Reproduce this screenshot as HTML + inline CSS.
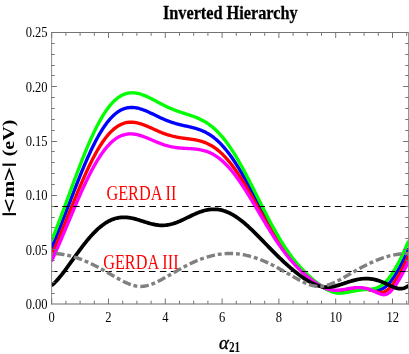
<!DOCTYPE html>
<html><head><meta charset="utf-8"><title>Inverted Hierarchy</title>
<style>html,body{margin:0;padding:0;background:#fff;}svg{display:block;}</style></head>
<body>
<svg width="409" height="354" viewBox="0 0 409 354">
<rect width="409" height="354" fill="#fff"/>
<defs><clipPath id="c"><rect x="51.4" y="32.5" width="357.70000000000005" height="271.5"/></clipPath></defs>
<g clip-path="url(#c)" fill="none" stroke-linejoin="round">
<path d="M51.40,248.39 L52.39,246.09 L53.39,243.75 L54.38,241.38 L55.38,238.98 L56.37,236.56 L57.37,234.11 L58.36,231.63 L59.36,229.13 L60.35,226.62 L61.35,224.08 L62.34,221.53 L63.34,218.97 L64.33,216.40 L65.33,213.81 L66.32,211.22 L67.32,208.63 L68.31,206.03 L69.31,203.43 L70.30,200.83 L71.30,198.23 L72.29,195.64 L73.29,193.06 L74.28,190.49 L75.28,187.93 L76.27,185.38 L77.27,182.84 L78.26,180.33 L79.26,177.83 L80.25,175.36 L81.25,172.91 L82.24,170.48 L83.24,168.08 L84.23,165.71 L85.23,163.37 L86.22,161.06 L87.22,158.79 L88.21,156.55 L89.21,154.35 L90.20,152.19 L91.20,150.06 L92.19,147.98 L93.19,145.95 L94.18,143.95 L95.18,142.01 L96.17,140.10 L97.17,138.25 L98.16,136.45 L99.16,134.70 L100.15,132.99 L101.15,131.34 L102.14,129.75 L103.14,128.20 L104.13,126.72 L105.13,125.28 L106.12,123.90 L107.12,122.58 L108.11,121.32 L109.11,120.11 L110.10,118.95 L111.10,117.86 L112.09,116.82 L113.09,115.84 L114.08,114.92 L115.08,114.05 L116.07,113.24 L117.07,112.48 L118.06,111.78 L119.06,111.14 L120.05,110.55 L121.05,110.02 L122.04,109.54 L123.04,109.11 L124.03,108.73 L125.03,108.41 L126.02,108.13 L127.02,107.91 L128.01,107.73 L129.01,107.59 L130.00,107.50 L131.00,107.46 L131.99,107.45 L132.99,107.49 L133.98,107.57 L134.98,107.68 L135.97,107.83 L136.97,108.01 L137.96,108.23 L138.96,108.48 L139.95,108.75 L140.95,109.05 L141.94,109.38 L142.94,109.73 L143.93,110.10 L144.93,110.50 L145.92,110.90 L146.92,111.33 L147.91,111.77 L148.91,112.22 L149.90,112.68 L150.90,113.15 L151.89,113.62 L152.89,114.10 L153.88,114.58 L154.88,115.07 L155.87,115.55 L156.87,116.03 L157.86,116.51 L158.86,116.99 L159.85,117.46 L160.85,117.92 L161.84,118.38 L162.84,118.82 L163.83,119.26 L164.83,119.69 L165.82,120.10 L166.82,120.50 L167.81,120.89 L168.81,121.27 L169.80,121.64 L170.80,121.99 L171.79,122.33 L172.79,122.66 L173.78,122.97 L174.78,123.27 L175.77,123.56 L176.77,123.84 L177.76,124.11 L178.76,124.37 L179.75,124.62 L180.75,124.87 L181.74,125.10 L182.74,125.33 L183.73,125.56 L184.73,125.79 L185.72,126.01 L186.72,126.23 L187.71,126.45 L188.71,126.68 L189.70,126.91 L190.70,127.14 L191.69,127.38 L192.69,127.63 L193.68,127.89 L194.68,128.16 L195.67,128.45 L196.67,128.75 L197.66,129.06 L198.66,129.40 L199.65,129.75 L200.65,130.12 L201.64,130.52 L202.64,130.94 L203.63,131.38 L204.63,131.85 L205.62,132.35 L206.62,132.87 L207.61,133.43 L208.61,134.01 L209.60,134.62 L210.60,135.27 L211.59,135.95 L212.59,136.67 L213.58,137.42 L214.58,138.20 L215.57,139.02 L216.57,139.87 L217.56,140.76 L218.56,141.69 L219.55,142.66 L220.55,143.66 L221.54,144.70 L222.54,145.77 L223.53,146.89 L224.53,148.04 L225.52,149.22 L226.52,150.44 L227.51,151.70 L228.51,152.99 L229.50,154.32 L230.50,155.69 L231.49,157.08 L232.49,158.51 L233.48,159.97 L234.48,161.47 L235.47,162.99 L236.47,164.55 L237.46,166.13 L238.46,167.74 L239.45,169.37 L240.45,171.03 L241.44,172.72 L242.44,174.43 L243.43,176.16 L244.43,177.91 L245.42,179.68 L246.42,181.47 L247.41,183.27 L248.41,185.09 L249.40,186.93 L250.40,188.77 L251.39,190.63 L252.39,192.49 L253.38,194.36 L254.38,196.24 L255.37,198.13 L256.37,200.01 L257.36,201.90 L258.36,203.79 L259.35,205.68 L260.35,207.56 L261.34,209.44 L262.34,211.32 L263.33,213.18 L264.33,215.04 L265.32,216.89 L266.32,218.73 L267.31,220.56 L268.31,222.37 L269.30,224.17 L270.30,225.95 L271.29,227.71 L272.29,229.46 L273.28,231.19 L274.28,232.89 L275.27,234.58 L276.27,236.24 L277.26,237.88 L278.26,239.50 L279.25,241.09 L280.25,242.66 L281.24,244.21 L282.24,245.72 L283.23,247.21 L284.23,248.68 L285.22,250.12 L286.22,251.53 L287.21,252.91 L288.21,254.27 L289.20,255.60 L290.20,256.90 L291.19,258.18 L292.19,259.43 L293.18,260.65 L294.18,261.85 L295.17,263.02 L296.17,264.17 L297.16,265.29 L298.16,266.39 L299.15,267.47 L300.15,268.52 L301.14,269.55 L302.14,270.56 L303.13,271.55 L304.13,272.52 L305.12,273.46 L306.12,274.39 L307.11,275.30 L308.11,276.18 L309.10,277.05 L310.10,277.91 L311.09,278.74 L312.09,279.55 L313.08,280.35 L314.08,281.13 L315.07,281.89 L316.07,282.63 L317.06,283.35 L318.06,284.05 L319.05,284.73 L320.05,285.39 L321.04,286.03 L322.04,286.64 L323.03,287.22 L324.03,287.78 L325.02,288.30 L326.02,288.80 L327.01,289.26 L328.01,289.69 L329.00,290.08 L330.00,290.43 L330.99,290.75 L331.99,291.02 L332.98,291.25 L333.98,291.44 L334.97,291.58 L335.97,291.68 L336.96,291.75 L337.96,291.77 L338.95,291.76 L339.95,291.72 L340.94,291.65 L341.94,291.55 L342.93,291.43 L343.93,291.29 L344.92,291.13 L345.92,290.96 L346.91,290.79 L347.91,290.61 L348.90,290.43 L349.90,290.26 L350.89,290.08 L351.89,289.92 L352.88,289.76 L353.88,289.62 L354.87,289.49 L355.87,289.37 L356.86,289.27 L357.86,289.19 L358.85,289.13 L359.85,289.09 L360.84,289.07 L361.84,289.07 L362.83,289.08 L363.83,289.12 L364.82,289.18 L365.82,289.25 L366.81,289.33 L367.81,289.43 L368.80,289.54 L369.80,289.65 L370.79,289.77 L371.79,289.88 L372.78,289.97 L373.78,290.06 L374.77,290.11 L375.77,290.13 L376.76,290.11 L377.76,290.04 L378.75,289.90 L379.75,289.69 L380.74,289.41 L381.74,289.04 L382.73,288.58 L383.73,288.02 L384.72,287.37 L385.72,286.62 L386.71,285.78 L387.71,284.84 L388.70,283.80 L389.70,282.68 L390.69,281.47 L391.69,280.17 L392.68,278.80 L393.68,277.35 L394.67,275.83 L395.67,274.23 L396.66,272.57 L397.66,270.85 L398.65,269.06 L399.65,267.22 L400.64,265.32 L401.64,263.37 L402.63,261.36 L403.63,259.31 L404.62,257.21 L405.62,255.07 L406.61,252.88 L407.61,250.65 L408.60,248.39" stroke="#0000ff" stroke-width="3.35"/>
<path d="M51.40,255.60 L52.39,253.40 L53.39,251.17 L54.38,248.91 L55.38,246.62 L56.37,244.30 L57.37,241.96 L58.36,239.60 L59.36,237.21 L60.35,234.81 L61.35,232.40 L62.34,229.96 L63.34,227.52 L64.33,225.06 L65.33,222.60 L66.32,220.13 L67.32,217.65 L68.31,215.18 L69.31,212.70 L70.30,210.22 L71.30,207.75 L72.29,205.29 L73.29,202.83 L74.28,200.38 L75.28,197.94 L76.27,195.51 L77.27,193.10 L78.26,190.71 L79.26,188.34 L80.25,185.98 L81.25,183.65 L82.24,181.35 L83.24,179.07 L84.23,176.81 L85.23,174.59 L86.22,172.40 L87.22,170.24 L88.21,168.12 L89.21,166.03 L90.20,163.98 L91.20,161.97 L92.19,160.00 L93.19,158.07 L94.18,156.18 L95.18,154.34 L96.17,152.54 L97.17,150.79 L98.16,149.09 L99.16,147.44 L100.15,145.83 L101.15,144.27 L102.14,142.77 L103.14,141.32 L104.13,139.92 L105.13,138.57 L106.12,137.28 L107.12,136.04 L108.11,134.85 L109.11,133.72 L110.10,132.64 L111.10,131.62 L112.09,130.65 L113.09,129.74 L114.08,128.88 L115.08,128.08 L116.07,127.33 L117.07,126.64 L118.06,126.00 L119.06,125.41 L120.05,124.87 L121.05,124.39 L122.04,123.96 L123.04,123.57 L124.03,123.24 L125.03,122.95 L126.02,122.71 L127.02,122.52 L128.01,122.38 L129.01,122.27 L130.00,122.21 L131.00,122.19 L131.99,122.21 L132.99,122.27 L133.98,122.36 L134.98,122.49 L135.97,122.65 L136.97,122.85 L137.96,123.07 L138.96,123.33 L139.95,123.60 L140.95,123.91 L141.94,124.23 L142.94,124.58 L143.93,124.94 L144.93,125.33 L145.92,125.72 L146.92,126.13 L147.91,126.56 L148.91,126.99 L149.90,127.43 L150.90,127.87 L151.89,128.32 L152.89,128.77 L153.88,129.22 L154.88,129.67 L155.87,130.12 L156.87,130.56 L157.86,131.00 L158.86,131.43 L159.85,131.86 L160.85,132.27 L161.84,132.68 L162.84,133.07 L163.83,133.45 L164.83,133.82 L165.82,134.17 L166.82,134.51 L167.81,134.84 L168.81,135.15 L169.80,135.45 L170.80,135.73 L171.79,136.00 L172.79,136.25 L173.78,136.49 L174.78,136.71 L175.77,136.92 L176.77,137.12 L177.76,137.31 L178.76,137.48 L179.75,137.65 L180.75,137.81 L181.74,137.95 L182.74,138.09 L183.73,138.23 L184.73,138.36 L185.72,138.49 L186.72,138.62 L187.71,138.75 L188.71,138.87 L189.70,139.01 L190.70,139.14 L191.69,139.29 L192.69,139.44 L193.68,139.60 L194.68,139.77 L195.67,139.95 L196.67,140.15 L197.66,140.36 L198.66,140.59 L199.65,140.84 L200.65,141.11 L201.64,141.40 L202.64,141.71 L203.63,142.05 L204.63,142.41 L205.62,142.80 L206.62,143.22 L207.61,143.66 L208.61,144.14 L209.60,144.65 L210.60,145.18 L211.59,145.75 L212.59,146.36 L213.58,146.99 L214.58,147.67 L215.57,148.37 L216.57,149.12 L217.56,149.89 L218.56,150.71 L219.55,151.56 L220.55,152.44 L221.54,153.37 L222.54,154.33 L223.53,155.32 L224.53,156.36 L225.52,157.43 L226.52,158.53 L227.51,159.67 L228.51,160.84 L229.50,162.05 L230.50,163.30 L231.49,164.57 L232.49,165.88 L233.48,167.23 L234.48,168.60 L235.47,170.00 L236.47,171.43 L237.46,172.89 L238.46,174.38 L239.45,175.90 L240.45,177.44 L241.44,179.00 L242.44,180.59 L243.43,182.20 L244.43,183.83 L245.42,185.47 L246.42,187.14 L247.41,188.82 L248.41,190.52 L249.40,192.24 L250.40,193.96 L251.39,195.70 L252.39,197.44 L253.38,199.20 L254.38,200.96 L255.37,202.72 L256.37,204.49 L257.36,206.27 L258.36,208.04 L259.35,209.81 L260.35,211.59 L261.34,213.36 L262.34,215.12 L263.33,216.88 L264.33,218.63 L265.32,220.37 L266.32,222.11 L267.31,223.83 L268.31,225.54 L269.30,227.24 L270.30,228.92 L271.29,230.59 L272.29,232.24 L273.28,233.87 L274.28,235.48 L275.27,237.08 L276.27,238.65 L277.26,240.21 L278.26,241.74 L279.25,243.25 L280.25,244.74 L281.24,246.20 L282.24,247.65 L283.23,249.06 L284.23,250.45 L285.22,251.82 L286.22,253.17 L287.21,254.49 L288.21,255.78 L289.20,257.05 L290.20,258.29 L291.19,259.51 L292.19,260.71 L293.18,261.88 L294.18,263.02 L295.17,264.15 L296.17,265.25 L297.16,266.32 L298.16,267.38 L299.15,268.41 L300.15,269.42 L301.14,270.41 L302.14,271.38 L303.13,272.33 L304.13,273.26 L305.12,274.17 L306.12,275.06 L307.11,275.93 L308.11,276.79 L309.10,277.62 L310.10,278.44 L311.09,279.23 L312.09,280.01 L313.08,280.77 L314.08,281.51 L315.07,282.23 L316.07,282.94 L317.06,283.62 L318.06,284.27 L319.05,284.91 L320.05,285.52 L321.04,286.11 L322.04,286.67 L323.03,287.20 L324.03,287.70 L325.02,288.17 L326.02,288.61 L327.01,289.01 L328.01,289.38 L329.00,289.71 L330.00,290.00 L330.99,290.25 L331.99,290.46 L332.98,290.63 L333.98,290.76 L334.97,290.85 L335.97,290.91 L336.96,290.92 L337.96,290.91 L338.95,290.86 L339.95,290.79 L340.94,290.69 L341.94,290.57 L342.93,290.43 L343.93,290.28 L344.92,290.11 L345.92,289.95 L346.91,289.77 L347.91,289.60 L348.90,289.43 L349.90,289.26 L350.89,289.10 L351.89,288.96 L352.88,288.82 L353.88,288.70 L354.87,288.60 L355.87,288.51 L356.86,288.45 L357.86,288.41 L358.85,288.39 L359.85,288.40 L360.84,288.43 L361.84,288.48 L362.83,288.57 L363.83,288.67 L364.82,288.81 L365.82,288.97 L366.81,289.16 L367.81,289.37 L368.80,289.60 L369.80,289.86 L370.79,290.13 L371.79,290.41 L372.78,290.71 L373.78,291.01 L374.77,291.30 L375.77,291.58 L376.76,291.84 L377.76,292.07 L378.75,292.25 L379.75,292.38 L380.74,292.42 L381.74,292.39 L382.73,292.25 L383.73,292.00 L384.72,291.63 L385.72,291.14 L386.71,290.52 L387.71,289.79 L388.70,288.94 L389.70,287.97 L390.69,286.91 L391.69,285.74 L392.68,284.48 L393.68,283.14 L394.67,281.72 L395.67,280.22 L396.66,278.66 L397.66,277.03 L398.65,275.33 L399.65,273.58 L400.64,271.77 L401.64,269.91 L402.63,267.99 L403.63,266.03 L404.62,264.03 L405.62,261.98 L406.61,259.89 L407.61,257.76 L408.60,255.60" stroke="#ff0000" stroke-width="3.35"/>
<path d="M51.40,240.85 L52.39,238.45 L53.39,236.02 L54.38,233.55 L55.38,231.06 L56.37,228.53 L57.37,225.98 L58.36,223.40 L59.36,220.81 L60.35,218.19 L61.35,215.55 L62.34,212.89 L63.34,210.23 L64.33,207.54 L65.33,204.85 L66.32,202.16 L67.32,199.45 L68.31,196.74 L69.31,194.03 L70.30,191.33 L71.30,188.62 L72.29,185.92 L73.29,183.23 L74.28,180.54 L75.28,177.87 L76.27,175.21 L77.27,172.56 L78.26,169.94 L79.26,167.33 L80.25,164.74 L81.25,162.18 L82.24,159.65 L83.24,157.14 L84.23,154.66 L85.23,152.21 L86.22,149.79 L87.22,147.41 L88.21,145.06 L89.21,142.76 L90.20,140.49 L91.20,138.26 L92.19,136.08 L93.19,133.94 L94.18,131.84 L95.18,129.79 L96.17,127.79 L97.17,125.84 L98.16,123.94 L99.16,122.09 L100.15,120.30 L101.15,118.56 L102.14,116.87 L103.14,115.24 L104.13,113.66 L105.13,112.14 L106.12,110.68 L107.12,109.27 L108.11,107.93 L109.11,106.64 L110.10,105.41 L111.10,104.24 L112.09,103.13 L113.09,102.08 L114.08,101.08 L115.08,100.15 L116.07,99.28 L117.07,98.46 L118.06,97.70 L119.06,97.00 L120.05,96.36 L121.05,95.77 L122.04,95.24 L123.04,94.76 L124.03,94.34 L125.03,93.97 L126.02,93.65 L127.02,93.39 L128.01,93.17 L129.01,93.00 L130.00,92.88 L131.00,92.81 L131.99,92.78 L132.99,92.80 L133.98,92.85 L134.98,92.95 L135.97,93.08 L136.97,93.25 L137.96,93.46 L138.96,93.70 L139.95,93.97 L140.95,94.27 L141.94,94.60 L142.94,94.96 L143.93,95.34 L144.93,95.74 L145.92,96.16 L146.92,96.60 L147.91,97.06 L148.91,97.53 L149.90,98.01 L150.90,98.51 L151.89,99.02 L152.89,99.53 L153.88,100.05 L154.88,100.57 L155.87,101.10 L156.87,101.63 L157.86,102.15 L158.86,102.68 L159.85,103.20 L160.85,103.72 L161.84,104.23 L162.84,104.74 L163.83,105.24 L164.83,105.73 L165.82,106.21 L166.82,106.69 L167.81,107.15 L168.81,107.60 L169.80,108.04 L170.80,108.47 L171.79,108.89 L172.79,109.30 L173.78,109.70 L174.78,110.09 L175.77,110.47 L176.77,110.84 L177.76,111.20 L178.76,111.55 L179.75,111.89 L180.75,112.23 L181.74,112.56 L182.74,112.88 L183.73,113.21 L184.73,113.53 L185.72,113.85 L186.72,114.17 L187.71,114.49 L188.71,114.81 L189.70,115.14 L190.70,115.47 L191.69,115.81 L192.69,116.16 L193.68,116.52 L194.68,116.89 L195.67,117.27 L196.67,117.67 L197.66,118.09 L198.66,118.52 L199.65,118.97 L200.65,119.44 L201.64,119.93 L202.64,120.45 L203.63,120.99 L204.63,121.56 L205.62,122.15 L206.62,122.77 L207.61,123.42 L208.61,124.10 L209.60,124.82 L210.60,125.56 L211.59,126.34 L212.59,127.15 L213.58,127.99 L214.58,128.87 L215.57,129.78 L216.57,130.74 L217.56,131.72 L218.56,132.75 L219.55,133.81 L220.55,134.90 L221.54,136.04 L222.54,137.21 L223.53,138.42 L224.53,139.66 L225.52,140.94 L226.52,142.26 L227.51,143.62 L228.51,145.01 L229.50,146.43 L230.50,147.89 L231.49,149.38 L232.49,150.91 L233.48,152.47 L234.48,154.06 L235.47,155.68 L236.47,157.33 L237.46,159.01 L238.46,160.72 L239.45,162.46 L240.45,164.22 L241.44,166.00 L242.44,167.81 L243.43,169.64 L244.43,171.49 L245.42,173.36 L246.42,175.25 L247.41,177.15 L248.41,179.07 L249.40,181.00 L250.40,182.95 L251.39,184.90 L252.39,186.87 L253.38,188.84 L254.38,190.82 L255.37,192.80 L256.37,194.79 L257.36,196.78 L258.36,198.77 L259.35,200.75 L260.35,202.74 L261.34,204.71 L262.34,206.69 L263.33,208.65 L264.33,210.61 L265.32,212.56 L266.32,214.49 L267.31,216.41 L268.31,218.32 L269.30,220.21 L270.30,222.09 L271.29,223.95 L272.29,225.79 L273.28,227.61 L274.28,229.40 L275.27,231.18 L276.27,232.93 L277.26,234.66 L278.26,236.37 L279.25,238.04 L280.25,239.70 L281.24,241.32 L282.24,242.93 L283.23,244.50 L284.23,246.04 L285.22,247.56 L286.22,249.05 L287.21,250.51 L288.21,251.94 L289.20,253.35 L290.20,254.72 L291.19,256.07 L292.19,257.39 L293.18,258.69 L294.18,259.95 L295.17,261.19 L296.17,262.41 L297.16,263.59 L298.16,264.76 L299.15,265.89 L300.15,267.01 L301.14,268.10 L302.14,269.17 L303.13,270.21 L304.13,271.24 L305.12,272.24 L306.12,273.23 L307.11,274.19 L308.11,275.14 L309.10,276.07 L310.10,276.97 L311.09,277.87 L312.09,278.74 L313.08,279.60 L314.08,280.43 L315.07,281.26 L316.07,282.06 L317.06,282.85 L318.06,283.62 L319.05,284.37 L320.05,285.10 L321.04,285.81 L322.04,286.49 L323.03,287.16 L324.03,287.80 L325.02,288.42 L326.02,289.00 L327.01,289.56 L328.01,290.09 L329.00,290.58 L330.00,291.04 L330.99,291.45 L331.99,291.83 L332.98,292.16 L333.98,292.45 L334.97,292.69 L335.97,292.88 L336.96,293.03 L337.96,293.13 L338.95,293.19 L339.95,293.21 L340.94,293.18 L341.94,293.13 L342.93,293.03 L343.93,292.91 L344.92,292.77 L345.92,292.61 L346.91,292.43 L347.91,292.24 L348.90,292.04 L349.90,291.84 L350.89,291.64 L351.89,291.44 L352.88,291.24 L353.88,291.05 L354.87,290.87 L355.87,290.69 L356.86,290.53 L357.86,290.37 L358.85,290.23 L359.85,290.11 L360.84,289.99 L361.84,289.88 L362.83,289.79 L363.83,289.70 L364.82,289.62 L365.82,289.54 L366.81,289.47 L367.81,289.39 L368.80,289.31 L369.80,289.21 L370.79,289.10 L371.79,288.97 L372.78,288.81 L373.78,288.62 L374.77,288.39 L375.77,288.12 L376.76,287.79 L377.76,287.41 L378.75,286.96 L379.75,286.45 L380.74,285.87 L381.74,285.21 L382.73,284.47 L383.73,283.66 L384.72,282.77 L385.72,281.79 L386.71,280.74 L387.71,279.61 L388.70,278.40 L389.70,277.12 L390.69,275.76 L391.69,274.33 L392.68,272.83 L393.68,271.27 L394.67,269.63 L395.67,267.93 L396.66,266.17 L397.66,264.34 L398.65,262.46 L399.65,260.52 L400.64,258.53 L401.64,256.48 L402.63,254.39 L403.63,252.24 L404.62,250.05 L405.62,247.81 L406.61,245.53 L407.61,243.21 L408.60,240.85" stroke="#00ff00" stroke-width="3.35"/>
<path d="M51.40,261.22 L52.39,259.10 L53.39,256.95 L54.38,254.78 L55.38,252.57 L56.37,250.34 L57.37,248.09 L58.36,245.82 L59.36,243.53 L60.35,241.22 L61.35,238.89 L62.34,236.55 L63.34,234.20 L64.33,231.85 L65.33,229.48 L66.32,227.11 L67.32,224.73 L68.31,222.35 L69.31,219.98 L70.30,217.60 L71.30,215.23 L72.29,212.86 L73.29,210.50 L74.28,208.15 L75.28,205.81 L76.27,203.49 L77.27,201.18 L78.26,198.89 L79.26,196.61 L80.25,194.36 L81.25,192.13 L82.24,189.92 L83.24,187.74 L84.23,185.58 L85.23,183.46 L86.22,181.36 L87.22,179.30 L88.21,177.27 L89.21,175.27 L90.20,173.31 L91.20,171.39 L92.19,169.51 L93.19,167.67 L94.18,165.87 L95.18,164.11 L96.17,162.40 L97.17,160.73 L98.16,159.11 L99.16,157.54 L100.15,156.01 L101.15,154.53 L102.14,153.10 L103.14,151.72 L104.13,150.39 L105.13,149.12 L106.12,147.89 L107.12,146.72 L108.11,145.60 L109.11,144.53 L110.10,143.51 L111.10,142.55 L112.09,141.64 L113.09,140.79 L114.08,139.98 L115.08,139.23 L116.07,138.53 L117.07,137.89 L118.06,137.29 L119.06,136.75 L120.05,136.25 L121.05,135.81 L122.04,135.42 L123.04,135.07 L124.03,134.77 L125.03,134.52 L126.02,134.31 L127.02,134.15 L128.01,134.03 L129.01,133.95 L130.00,133.91 L131.00,133.91 L131.99,133.95 L132.99,134.02 L133.98,134.13 L134.98,134.27 L135.97,134.44 L136.97,134.65 L137.96,134.88 L138.96,135.14 L139.95,135.42 L140.95,135.72 L141.94,136.04 L142.94,136.39 L143.93,136.75 L144.93,137.12 L145.92,137.51 L146.92,137.91 L147.91,138.32 L148.91,138.73 L149.90,139.15 L150.90,139.58 L151.89,140.01 L152.89,140.43 L153.88,140.86 L154.88,141.28 L155.87,141.70 L156.87,142.11 L157.86,142.52 L158.86,142.91 L159.85,143.30 L160.85,143.68 L161.84,144.04 L162.84,144.39 L163.83,144.72 L164.83,145.05 L165.82,145.35 L166.82,145.64 L167.81,145.92 L168.81,146.17 L169.80,146.42 L170.80,146.64 L171.79,146.85 L172.79,147.04 L173.78,147.22 L174.78,147.38 L175.77,147.53 L176.77,147.66 L177.76,147.78 L178.76,147.89 L179.75,147.98 L180.75,148.07 L181.74,148.15 L182.74,148.22 L183.73,148.28 L184.73,148.34 L185.72,148.39 L186.72,148.44 L187.71,148.49 L188.71,148.55 L189.70,148.60 L190.70,148.66 L191.69,148.72 L192.69,148.80 L193.68,148.88 L194.68,148.97 L195.67,149.07 L196.67,149.19 L197.66,149.32 L198.66,149.47 L199.65,149.63 L200.65,149.82 L201.64,150.03 L202.64,150.26 L203.63,150.51 L204.63,150.79 L205.62,151.09 L206.62,151.43 L207.61,151.79 L208.61,152.18 L209.60,152.60 L210.60,153.05 L211.59,153.53 L212.59,154.05 L213.58,154.60 L214.58,155.18 L215.57,155.80 L216.57,156.46 L217.56,157.14 L218.56,157.87 L219.55,158.63 L220.55,159.43 L221.54,160.26 L222.54,161.13 L223.53,162.03 L224.53,162.97 L225.52,163.95 L226.52,164.96 L227.51,166.01 L228.51,167.09 L229.50,168.20 L230.50,169.35 L231.49,170.53 L232.49,171.75 L233.48,172.99 L234.48,174.27 L235.47,175.58 L236.47,176.91 L237.46,178.28 L238.46,179.67 L239.45,181.09 L240.45,182.53 L241.44,184.00 L242.44,185.49 L243.43,187.00 L244.43,188.53 L245.42,190.09 L246.42,191.66 L247.41,193.24 L248.41,194.84 L249.40,196.46 L250.40,198.09 L251.39,199.73 L252.39,201.38 L253.38,203.04 L254.38,204.71 L255.37,206.38 L256.37,208.06 L257.36,209.74 L258.36,211.42 L259.35,213.11 L260.35,214.79 L261.34,216.47 L262.34,218.14 L263.33,219.82 L264.33,221.48 L265.32,223.14 L266.32,224.79 L267.31,226.43 L268.31,228.06 L269.30,229.67 L270.30,231.28 L271.29,232.87 L272.29,234.44 L273.28,236.00 L274.28,237.54 L275.27,239.06 L276.27,240.57 L277.26,242.05 L278.26,243.52 L279.25,244.96 L280.25,246.39 L281.24,247.79 L282.24,249.17 L283.23,250.53 L284.23,251.87 L285.22,253.18 L286.22,254.47 L287.21,255.74 L288.21,256.98 L289.20,258.20 L290.20,259.40 L291.19,260.57 L292.19,261.72 L293.18,262.85 L294.18,263.96 L295.17,265.04 L296.17,266.10 L297.16,267.14 L298.16,268.16 L299.15,269.16 L300.15,270.14 L301.14,271.10 L302.14,272.04 L303.13,272.96 L304.13,273.85 L305.12,274.73 L306.12,275.60 L307.11,276.44 L308.11,277.26 L309.10,278.07 L310.10,278.86 L311.09,279.63 L312.09,280.37 L313.08,281.11 L314.08,281.82 L315.07,282.51 L316.07,283.17 L317.06,283.82 L318.06,284.44 L319.05,285.04 L320.05,285.62 L321.04,286.17 L322.04,286.68 L323.03,287.17 L324.03,287.63 L325.02,288.06 L326.02,288.45 L327.01,288.81 L328.01,289.12 L329.00,289.40 L330.00,289.65 L330.99,289.85 L331.99,290.01 L332.98,290.14 L333.98,290.22 L334.97,290.27 L335.97,290.29 L336.96,290.27 L337.96,290.22 L338.95,290.14 L339.95,290.04 L340.94,289.92 L341.94,289.78 L342.93,289.62 L343.93,289.46 L344.92,289.29 L345.92,289.11 L346.91,288.93 L347.91,288.75 L348.90,288.58 L349.90,288.41 L350.89,288.26 L351.89,288.11 L352.88,287.98 L353.88,287.87 L354.87,287.78 L355.87,287.70 L356.86,287.65 L357.86,287.62 L358.85,287.62 L359.85,287.64 L360.84,287.70 L361.84,287.78 L362.83,287.89 L363.83,288.03 L364.82,288.20 L365.82,288.40 L366.81,288.64 L367.81,288.91 L368.80,289.20 L369.80,289.53 L370.79,289.89 L371.79,290.27 L372.78,290.67 L373.78,291.10 L374.77,291.55 L375.77,292.00 L376.76,292.46 L377.76,292.92 L378.75,293.36 L379.75,293.77 L380.74,294.13 L381.74,294.42 L382.73,294.62 L383.73,294.72 L384.72,294.67 L385.72,294.49 L386.71,294.14 L387.71,293.63 L388.70,292.97 L389.70,292.17 L390.69,291.23 L391.69,290.17 L392.68,289.01 L393.68,287.74 L394.67,286.39 L395.67,284.96 L396.66,283.46 L397.66,281.89 L398.65,280.26 L399.65,278.57 L400.64,276.82 L401.64,275.02 L402.63,273.18 L403.63,271.28 L404.62,269.35 L405.62,267.37 L406.61,265.36 L407.61,263.31 L408.60,261.22" stroke="#ff00ff" stroke-width="3.35"/>
<path d="M51.40,285.58 L52.39,284.80 L53.39,283.94 L54.38,283.01 L55.38,282.02 L56.37,280.98 L57.37,279.89 L58.36,278.76 L59.36,277.58 L60.35,276.37 L61.35,275.13 L62.34,273.87 L63.34,272.57 L64.33,271.26 L65.33,269.93 L66.32,268.58 L67.32,267.22 L68.31,265.85 L69.31,264.47 L70.30,263.09 L71.30,261.70 L72.29,260.31 L73.29,258.92 L74.28,257.53 L75.28,256.15 L76.27,254.77 L77.27,253.39 L78.26,252.03 L79.26,250.68 L80.25,249.34 L81.25,248.01 L82.24,246.70 L83.24,245.40 L84.23,244.12 L85.23,242.86 L86.22,241.63 L87.22,240.41 L88.21,239.21 L89.21,238.04 L90.20,236.89 L91.20,235.77 L92.19,234.68 L93.19,233.61 L94.18,232.57 L95.18,231.57 L96.17,230.59 L97.17,229.64 L98.16,228.73 L99.16,227.85 L100.15,227.00 L101.15,226.19 L102.14,225.41 L103.14,224.67 L104.13,223.96 L105.13,223.28 L106.12,222.65 L107.12,222.04 L108.11,221.48 L109.11,220.95 L110.10,220.46 L111.10,220.01 L112.09,219.59 L113.09,219.21 L114.08,218.86 L115.08,218.55 L116.07,218.28 L117.07,218.04 L118.06,217.84 L119.06,217.67 L120.05,217.53 L121.05,217.43 L122.04,217.36 L123.04,217.32 L124.03,217.31 L125.03,217.33 L126.02,217.38 L127.02,217.46 L128.01,217.56 L129.01,217.69 L130.00,217.84 L131.00,218.02 L131.99,218.21 L132.99,218.43 L133.98,218.66 L134.98,218.91 L135.97,219.18 L136.97,219.46 L137.96,219.75 L138.96,220.05 L139.95,220.35 L140.95,220.67 L141.94,220.99 L142.94,221.31 L143.93,221.63 L144.93,221.95 L145.92,222.26 L146.92,222.57 L147.91,222.87 L148.91,223.16 L149.90,223.45 L150.90,223.71 L151.89,223.97 L152.89,224.20 L153.88,224.42 L154.88,224.62 L155.87,224.80 L156.87,224.95 L157.86,225.08 L158.86,225.19 L159.85,225.27 L160.85,225.32 L161.84,225.35 L162.84,225.35 L163.83,225.31 L164.83,225.25 L165.82,225.17 L166.82,225.05 L167.81,224.90 L168.81,224.73 L169.80,224.52 L170.80,224.29 L171.79,224.04 L172.79,223.76 L173.78,223.45 L174.78,223.12 L175.77,222.77 L176.77,222.40 L177.76,222.01 L178.76,221.61 L179.75,221.18 L180.75,220.75 L181.74,220.30 L182.74,219.84 L183.73,219.37 L184.73,218.89 L185.72,218.41 L186.72,217.93 L187.71,217.44 L188.71,216.95 L189.70,216.47 L190.70,215.99 L191.69,215.51 L192.69,215.05 L193.68,214.59 L194.68,214.14 L195.67,213.70 L196.67,213.27 L197.66,212.87 L198.66,212.47 L199.65,212.10 L200.65,211.74 L201.64,211.40 L202.64,211.09 L203.63,210.79 L204.63,210.52 L205.62,210.28 L206.62,210.05 L207.61,209.86 L208.61,209.69 L209.60,209.55 L210.60,209.44 L211.59,209.35 L212.59,209.30 L213.58,209.27 L214.58,209.28 L215.57,209.31 L216.57,209.38 L217.56,209.47 L218.56,209.60 L219.55,209.76 L220.55,209.95 L221.54,210.17 L222.54,210.42 L223.53,210.71 L224.53,211.02 L225.52,211.37 L226.52,211.74 L227.51,212.15 L228.51,212.58 L229.50,213.05 L230.50,213.54 L231.49,214.06 L232.49,214.61 L233.48,215.19 L234.48,215.79 L235.47,216.42 L236.47,217.08 L237.46,217.76 L238.46,218.46 L239.45,219.19 L240.45,219.94 L241.44,220.72 L242.44,221.51 L243.43,222.32 L244.43,223.15 L245.42,224.01 L246.42,224.87 L247.41,225.76 L248.41,226.66 L249.40,227.58 L250.40,228.51 L251.39,229.45 L252.39,230.40 L253.38,231.37 L254.38,232.34 L255.37,233.33 L256.37,234.32 L257.36,235.32 L258.36,236.33 L259.35,237.34 L260.35,238.36 L261.34,239.38 L262.34,240.41 L263.33,241.43 L264.33,242.46 L265.32,243.49 L266.32,244.52 L267.31,245.54 L268.31,246.57 L269.30,247.59 L270.30,248.61 L271.29,249.63 L272.29,250.64 L273.28,251.65 L274.28,252.65 L275.27,253.64 L276.27,254.63 L277.26,255.61 L278.26,256.59 L279.25,257.55 L280.25,258.51 L281.24,259.46 L282.24,260.40 L283.23,261.33 L284.23,262.26 L285.22,263.17 L286.22,264.07 L287.21,264.96 L288.21,265.84 L289.20,266.71 L290.20,267.57 L291.19,268.42 L292.19,269.26 L293.18,270.08 L294.18,270.90 L295.17,271.70 L296.17,272.49 L297.16,273.27 L298.16,274.03 L299.15,274.78 L300.15,275.52 L301.14,276.25 L302.14,276.96 L303.13,277.65 L304.13,278.33 L305.12,278.99 L306.12,279.64 L307.11,280.27 L308.11,280.87 L309.10,281.46 L310.10,282.03 L311.09,282.58 L312.09,283.10 L313.08,283.60 L314.08,284.07 L315.07,284.52 L316.07,284.93 L317.06,285.32 L318.06,285.67 L319.05,285.99 L320.05,286.27 L321.04,286.52 L322.04,286.74 L323.03,286.91 L324.03,287.05 L325.02,287.14 L326.02,287.20 L327.01,287.23 L328.01,287.21 L329.00,287.16 L330.00,287.08 L330.99,286.96 L331.99,286.81 L332.98,286.63 L333.98,286.43 L334.97,286.20 L335.97,285.95 L336.96,285.68 L337.96,285.39 L338.95,285.09 L339.95,284.78 L340.94,284.46 L341.94,284.13 L342.93,283.79 L343.93,283.46 L344.92,283.12 L345.92,282.78 L346.91,282.45 L347.91,282.12 L348.90,281.80 L349.90,281.48 L350.89,281.18 L351.89,280.88 L352.88,280.60 L353.88,280.34 L354.87,280.08 L355.87,279.85 L356.86,279.63 L357.86,279.43 L358.85,279.25 L359.85,279.09 L360.84,278.96 L361.84,278.84 L362.83,278.75 L363.83,278.68 L364.82,278.63 L365.82,278.61 L366.81,278.62 L367.81,278.65 L368.80,278.70 L369.80,278.79 L370.79,278.90 L371.79,279.03 L372.78,279.19 L373.78,279.38 L374.77,279.60 L375.77,279.84 L376.76,280.10 L377.76,280.39 L378.75,280.71 L379.75,281.05 L380.74,281.41 L381.74,281.79 L382.73,282.19 L383.73,282.61 L384.72,283.05 L385.72,283.50 L386.71,283.96 L387.71,284.42 L388.70,284.89 L389.70,285.37 L390.69,285.83 L391.69,286.29 L392.68,286.73 L393.68,287.14 L394.67,287.53 L395.67,287.87 L396.66,288.17 L397.66,288.42 L398.65,288.60 L399.65,288.70 L400.64,288.72 L401.64,288.66 L402.63,288.50 L403.63,288.25 L404.62,287.90 L405.62,287.46 L406.61,286.92 L407.61,286.29 L408.60,285.58" stroke="#000000" stroke-width="3.75"/>
<path d="M51.4,206.5 H408.6" stroke="#000" stroke-width="1.2" stroke-dasharray="6.5 4.4"/>
<path d="M50.9,271.5 H408.6" stroke="#000" stroke-width="1.2" stroke-dasharray="6.5 4.4"/>
<path d="M51.40,253.50 L52.39,253.51 L53.39,253.53 L54.38,253.56 L55.38,253.61 L56.37,253.67 L57.37,253.75 L58.36,253.83 L59.36,253.93 L60.35,254.05 L61.35,254.18 L62.34,254.32 L63.34,254.47 L64.33,254.64 L65.33,254.82 L66.32,255.02 L67.32,255.23 L68.31,255.45 L69.31,255.68 L70.30,255.92 L71.30,256.18 L72.29,256.45 L73.29,256.73 L74.28,257.03 L75.28,257.34 L76.27,257.65 L77.27,257.99 L78.26,258.33 L79.26,258.68 L80.25,259.05 L81.25,259.42 L82.24,259.81 L83.24,260.21 L84.23,260.62 L85.23,261.03 L86.22,261.46 L87.22,261.90 L88.21,262.35 L89.21,262.81 L90.20,263.27 L91.20,263.75 L92.19,264.23 L93.19,264.73 L94.18,265.23 L95.18,265.74 L96.17,266.25 L97.17,266.77 L98.16,267.30 L99.16,267.84 L100.15,268.38 L101.15,268.93 L102.14,269.48 L103.14,270.04 L104.13,270.60 L105.13,271.17 L106.12,271.73 L107.12,272.31 L108.11,272.88 L109.11,273.45 L110.10,274.03 L111.10,274.61 L112.09,275.18 L113.09,275.76 L114.08,276.33 L115.08,276.90 L116.07,277.46 L117.07,278.02 L118.06,278.58 L119.06,279.12 L120.05,279.66 L121.05,280.19 L122.04,280.71 L123.04,281.22 L124.03,281.71 L125.03,282.19 L126.02,282.66 L127.02,283.10 L128.01,283.52 L129.01,283.93 L130.00,284.30 L131.00,284.66 L131.99,284.98 L132.99,285.28 L133.98,285.54 L134.98,285.78 L135.97,285.97 L136.97,286.13 L137.96,286.26 L138.96,286.35 L139.95,286.40 L140.95,286.41 L141.94,286.38 L142.94,286.31 L143.93,286.20 L144.93,286.06 L145.92,285.88 L146.92,285.66 L147.91,285.41 L148.91,285.13 L149.90,284.82 L150.90,284.48 L151.89,284.12 L152.89,283.73 L153.88,283.31 L154.88,282.88 L155.87,282.43 L156.87,281.96 L157.86,281.47 L158.86,280.97 L159.85,280.45 L160.85,279.93 L161.84,279.39 L162.84,278.85 L163.83,278.30 L164.83,277.74 L165.82,277.18 L166.82,276.61 L167.81,276.04 L168.81,275.47 L169.80,274.89 L170.80,274.32 L171.79,273.74 L172.79,273.17 L173.78,272.59 L174.78,272.02 L175.77,271.45 L176.77,270.88 L177.76,270.32 L178.76,269.76 L179.75,269.21 L180.75,268.66 L181.74,268.11 L182.74,267.57 L183.73,267.04 L184.73,266.51 L185.72,265.99 L186.72,265.48 L187.71,264.98 L188.71,264.48 L189.70,263.99 L190.70,263.51 L191.69,263.04 L192.69,262.58 L193.68,262.12 L194.68,261.68 L195.67,261.25 L196.67,260.82 L197.66,260.41 L198.66,260.01 L199.65,259.61 L200.65,259.23 L201.64,258.86 L202.64,258.50 L203.63,258.16 L204.63,257.82 L205.62,257.49 L206.62,257.18 L207.61,256.88 L208.61,256.59 L209.60,256.31 L210.60,256.05 L211.59,255.80 L212.59,255.56 L213.58,255.33 L214.58,255.12 L215.57,254.92 L216.57,254.73 L217.56,254.56 L218.56,254.40 L219.55,254.25 L220.55,254.11 L221.54,253.99 L222.54,253.88 L223.53,253.79 L224.53,253.71 L225.52,253.64 L226.52,253.58 L227.51,253.54 L228.51,253.52 L229.50,253.50 L230.50,253.50 L231.49,253.52 L232.49,253.54 L233.48,253.58 L234.48,253.64 L235.47,253.71 L236.47,253.79 L237.46,253.88 L238.46,253.99 L239.45,254.11 L240.45,254.25 L241.44,254.40 L242.44,254.56 L243.43,254.73 L244.43,254.92 L245.42,255.12 L246.42,255.33 L247.41,255.56 L248.41,255.80 L249.40,256.05 L250.40,256.31 L251.39,256.59 L252.39,256.88 L253.38,257.18 L254.38,257.49 L255.37,257.82 L256.37,258.16 L257.36,258.50 L258.36,258.86 L259.35,259.23 L260.35,259.61 L261.34,260.01 L262.34,260.41 L263.33,260.82 L264.33,261.25 L265.32,261.68 L266.32,262.12 L267.31,262.58 L268.31,263.04 L269.30,263.51 L270.30,263.99 L271.29,264.48 L272.29,264.98 L273.28,265.48 L274.28,265.99 L275.27,266.51 L276.27,267.04 L277.26,267.57 L278.26,268.11 L279.25,268.66 L280.25,269.21 L281.24,269.76 L282.24,270.32 L283.23,270.88 L284.23,271.45 L285.22,272.02 L286.22,272.59 L287.21,273.17 L288.21,273.74 L289.20,274.32 L290.20,274.89 L291.19,275.47 L292.19,276.04 L293.18,276.61 L294.18,277.18 L295.17,277.74 L296.17,278.30 L297.16,278.85 L298.16,279.39 L299.15,279.93 L300.15,280.45 L301.14,280.97 L302.14,281.47 L303.13,281.96 L304.13,282.43 L305.12,282.88 L306.12,283.31 L307.11,283.73 L308.11,284.12 L309.10,284.48 L310.10,284.82 L311.09,285.13 L312.09,285.41 L313.08,285.66 L314.08,285.88 L315.07,286.06 L316.07,286.20 L317.06,286.31 L318.06,286.38 L319.05,286.41 L320.05,286.40 L321.04,286.35 L322.04,286.26 L323.03,286.13 L324.03,285.97 L325.02,285.78 L326.02,285.54 L327.01,285.28 L328.01,284.98 L329.00,284.66 L330.00,284.30 L330.99,283.93 L331.99,283.52 L332.98,283.10 L333.98,282.66 L334.97,282.19 L335.97,281.71 L336.96,281.22 L337.96,280.71 L338.95,280.19 L339.95,279.66 L340.94,279.12 L341.94,278.58 L342.93,278.02 L343.93,277.46 L344.92,276.90 L345.92,276.33 L346.91,275.76 L347.91,275.18 L348.90,274.61 L349.90,274.03 L350.89,273.45 L351.89,272.88 L352.88,272.31 L353.88,271.73 L354.87,271.17 L355.87,270.60 L356.86,270.04 L357.86,269.48 L358.85,268.93 L359.85,268.38 L360.84,267.84 L361.84,267.30 L362.83,266.77 L363.83,266.25 L364.82,265.74 L365.82,265.23 L366.81,264.73 L367.81,264.23 L368.80,263.75 L369.80,263.27 L370.79,262.81 L371.79,262.35 L372.78,261.90 L373.78,261.46 L374.77,261.03 L375.77,260.62 L376.76,260.21 L377.76,259.81 L378.75,259.42 L379.75,259.05 L380.74,258.68 L381.74,258.33 L382.73,257.99 L383.73,257.65 L384.72,257.34 L385.72,257.03 L386.71,256.73 L387.71,256.45 L388.70,256.18 L389.70,255.92 L390.69,255.68 L391.69,255.45 L392.68,255.23 L393.68,255.02 L394.67,254.82 L395.67,254.64 L396.66,254.47 L397.66,254.32 L398.65,254.18 L399.65,254.05 L400.64,253.93 L401.64,253.83 L402.63,253.75 L403.63,253.67 L404.62,253.61 L405.62,253.56 L406.61,253.53 L407.61,253.51 L408.60,253.50" stroke="#808080" stroke-width="3.45" stroke-dasharray="8.55 2.85 3.9 2.97" stroke-dashoffset="13.67"/>
</g>
<path d="M51,32.5 H409" stroke="#747474" stroke-width="1" fill="none"/>
<path d="M51,304.0 H409" stroke="#6a6a6a" stroke-width="1.1" fill="none"/>
<path d="M51.6,32.0 V304.5" stroke="#8c8c8c" stroke-width="1" fill="none"/>
<path d="M408.6,32.0 V304.5" stroke="#8c8c8c" stroke-width="1" fill="none"/>
<path d="M51.70,304.0 v-5.5 M51.70,32.5 v5.5 M65.90,304.0 v-3.3 M65.90,32.5 v3.3 M80.10,304.0 v-3.3 M80.10,32.5 v3.3 M94.30,304.0 v-3.3 M94.30,32.5 v3.3 M108.50,304.0 v-5.5 M108.50,32.5 v5.5 M122.70,304.0 v-3.3 M122.70,32.5 v3.3 M136.90,304.0 v-3.3 M136.90,32.5 v3.3 M151.10,304.0 v-3.3 M151.10,32.5 v3.3 M165.30,304.0 v-5.5 M165.30,32.5 v5.5 M179.50,304.0 v-3.3 M179.50,32.5 v3.3 M193.70,304.0 v-3.3 M193.70,32.5 v3.3 M207.90,304.0 v-3.3 M207.90,32.5 v3.3 M222.10,304.0 v-5.5 M222.10,32.5 v5.5 M236.30,304.0 v-3.3 M236.30,32.5 v3.3 M250.50,304.0 v-3.3 M250.50,32.5 v3.3 M264.70,304.0 v-3.3 M264.70,32.5 v3.3 M278.90,304.0 v-5.5 M278.90,32.5 v5.5 M293.10,304.0 v-3.3 M293.10,32.5 v3.3 M307.30,304.0 v-3.3 M307.30,32.5 v3.3 M321.50,304.0 v-3.3 M321.50,32.5 v3.3 M335.70,304.0 v-5.5 M335.70,32.5 v5.5 M349.90,304.0 v-3.3 M349.90,32.5 v3.3 M364.10,304.0 v-3.3 M364.10,32.5 v3.3 M378.30,304.0 v-3.3 M378.30,32.5 v3.3 M392.50,304.0 v-5.5 M392.50,32.5 v5.5 M406.70,304.0 v-3.3 M406.70,32.5 v3.3 M51.4,293.50 h3.3 M408.6,293.50 h-3.3 M51.4,282.50 h3.3 M408.6,282.50 h-3.3 M51.4,271.50 h3.3 M408.6,271.50 h-3.3 M51.4,260.50 h3.3 M408.6,260.50 h-3.3 M51.4,249.50 h5.5 M408.6,249.50 h-5.5 M51.4,238.50 h3.3 M408.6,238.50 h-3.3 M51.4,227.50 h3.3 M408.6,227.50 h-3.3 M51.4,217.50 h3.3 M408.6,217.50 h-3.3 M51.4,206.50 h3.3 M408.6,206.50 h-3.3 M51.4,195.50 h5.5 M408.6,195.50 h-5.5 M51.4,184.50 h3.3 M408.6,184.50 h-3.3 M51.4,173.50 h3.3 M408.6,173.50 h-3.3 M51.4,162.50 h3.3 M408.6,162.50 h-3.3 M51.4,151.50 h3.3 M408.6,151.50 h-3.3 M51.4,141.50 h5.5 M408.6,141.50 h-5.5 M51.4,130.50 h3.3 M408.6,130.50 h-3.3 M51.4,119.50 h3.3 M408.6,119.50 h-3.3 M51.4,108.50 h3.3 M408.6,108.50 h-3.3 M51.4,97.50 h3.3 M408.6,97.50 h-3.3 M51.4,86.50 h5.5 M408.6,86.50 h-5.5 M51.4,75.50 h3.3 M408.6,75.50 h-3.3 M51.4,65.50 h3.3 M408.6,65.50 h-3.3 M51.4,54.50 h3.3 M408.6,54.50 h-3.3 M51.4,43.50 h3.3 M408.6,43.50 h-3.3" stroke="#747474" stroke-width="1" fill="none"/>
<g opacity="0.999">
<text transform="translate(47.6,308.9) scale(0.86,1)" font-family="Liberation Serif, serif" font-size="14.6" text-anchor="end" fill="#000" >0.00</text>
<text transform="translate(47.6,254.6) scale(0.86,1)" font-family="Liberation Serif, serif" font-size="14.6" text-anchor="end" fill="#000" >0.05</text>
<text transform="translate(47.6,200.29999999999998) scale(0.86,1)" font-family="Liberation Serif, serif" font-size="14.6" text-anchor="end" fill="#000" >0.10</text>
<text transform="translate(47.6,145.99999999999997) scale(0.86,1)" font-family="Liberation Serif, serif" font-size="14.6" text-anchor="end" fill="#000" >0.15</text>
<text transform="translate(47.6,91.69999999999999) scale(0.86,1)" font-family="Liberation Serif, serif" font-size="14.6" text-anchor="end" fill="#000" >0.20</text>
<text transform="translate(47.6,37.4) scale(0.86,1)" font-family="Liberation Serif, serif" font-size="14.6" text-anchor="end" fill="#000" >0.25</text>
<text transform="translate(51.6,321.9) scale(0.86,1)" font-family="Liberation Serif, serif" font-size="14.6" text-anchor="middle" fill="#000" >0</text>
<text transform="translate(108.45014567242502,321.9) scale(0.86,1)" font-family="Liberation Serif, serif" font-size="14.6" text-anchor="middle" fill="#000" >2</text>
<text transform="translate(165.30029134485002,321.9) scale(0.86,1)" font-family="Liberation Serif, serif" font-size="14.6" text-anchor="middle" fill="#000" >4</text>
<text transform="translate(222.15043701727507,321.9) scale(0.86,1)" font-family="Liberation Serif, serif" font-size="14.6" text-anchor="middle" fill="#000" >6</text>
<text transform="translate(279.0005826897001,321.9) scale(0.86,1)" font-family="Liberation Serif, serif" font-size="14.6" text-anchor="middle" fill="#000" >8</text>
<text transform="translate(335.8507283621251,321.9) scale(0.86,1)" font-family="Liberation Serif, serif" font-size="14.6" text-anchor="middle" fill="#000" >10</text>
<text transform="translate(392.7008740345501,321.9) scale(0.86,1)" font-family="Liberation Serif, serif" font-size="14.6" text-anchor="middle" fill="#000" >12</text>
<text transform="translate(230.3,18.9) scale(0.822,1)" font-family="Liberation Serif, serif" font-size="19.8" text-anchor="middle" fill="#000" font-weight="bold" stroke="#000" stroke-width="0.3">Inverted Hierarchy</text>
<text transform="translate(106.4,199.5) scale(0.805,1)" font-family="Liberation Serif, serif" font-size="20.2" text-anchor="start" fill="#ff0000" >GERDA II</text>
<text transform="translate(103.2,269) scale(0.805,1)" font-family="Liberation Serif, serif" font-size="20.2" text-anchor="start" fill="#ff0000" >GERDA III</text>
<rect x="2.4" y="213.1" width="13.6" height="2.1" fill="#000"/>
<rect x="2.4" y="163.64999999999998" width="13.6" height="2.1" fill="#000"/>
<path d="M5.3,199.8 L9.25,210.5 L13.3,199.8" fill="none" stroke="#000" stroke-width="1.5" stroke-linejoin="miter"/>
<path d="M5.3,180.1 L9.25,169.4 L13.3,180.1" fill="none" stroke="#000" stroke-width="1.5" stroke-linejoin="miter"/>
<text transform="translate(13.85,197.6) scale(0.88,1) rotate(-90)" font-family="Liberation Serif, serif" font-size="20" font-weight="bold" >m</text>
<text transform="translate(13.85,156.3) scale(0.88,1) rotate(-90)" font-family="Liberation Serif, serif" font-size="20" font-weight="bold" >(eV)</text>
<text transform="translate(219.0,349) scale(1.0,1)" font-family="Liberation Serif, serif" font-size="18.8" font-style="italic" stroke="#000" stroke-width="0.4">α</text>
<text transform="translate(228.9,352.4) scale(0.80,1)" font-family="Liberation Serif, serif" font-size="14" font-weight="bold">21</text>
</g>
</svg>
</body></html>
